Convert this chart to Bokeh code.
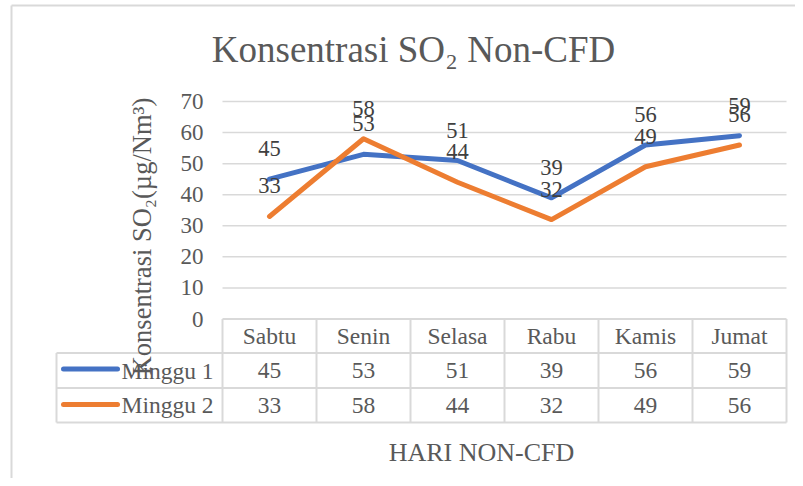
from bokeh.plotting import figure
from bokeh.core.properties import value
from bokeh.models import Range1d
from bokeh.embed import file_html
from bokeh.resources import INLINE

# ---- data ----
days = ["Sabtu", "Senin", "Selasa", "Rabu", "Kamis", "Jumat"]
series_names = ["Minggu 1", "Minggu 2"]
minggu1 = [45, 53, 51, 39, 56, 59]
minggu2 = [33, 58, 44, 32, 49, 56]
y_ticks = [0, 10, 20, 30, 40, 50, 60, 70]
title_text = "Konsentrasi SO\u2082 Non-CFD"
y_title = "Konsentrasi SO\u2082(\u00b5g/Nm\u00b3)"
x_title = "HARI NON-CFD"

# ---- layout (page pixels) ----
W, H = 795, 478
OFF = 0
PLOT_L = 222.0      # page x of first category column
COL = 94.0          # px per category
ZERO_Y = 318.5      # page y of value 0
PPU = 3.107         # px per value unit


def X(px):
    return (px - PLOT_L) / COL


def Y(py):
    return (ZERO_Y - py) / PPU


FONT = value("Liberation Serif")
GRID = "#d9d9d9"
TXT = "#595959"
LBL = "#404040"
COLORS = ["#4472c4", "#ed7d31"]

p = figure(width=W, height=H,
           x_range=Range1d(X(OFF), X(OFF + W)),
           y_range=Range1d(Y(OFF + H), Y(OFF)),
           x_axis_type=None, y_axis_type=None,
           output_backend="svg", toolbar_location=None,
           min_border=0, outline_line_color=None)
p.background_fill_color = "white"
p.border_fill_color = "white"

# outer chart border (left and top edges)
p.segment(x0=[X(11), X(11)], x1=[X(11), X(OFF + W)], y0=[Y(5), Y(5)], y1=[Y(OFF + H), Y(5)],
          line_color=GRID, line_width=2)

n = len(days)
xc = [i + 0.5 for i in range(n)]

# gridlines
gv = [t for t in y_ticks if t > 0]
p.segment(x0=[0] * len(gv), x1=[n] * len(gv), y0=gv, y1=gv, line_color=GRID, line_width=1.5)

# y tick labels
p.text(x=[X(203)] * len(y_ticks), y=y_ticks, text=[str(t) for t in y_ticks],
       text_align="right", text_baseline="middle", text_font=FONT,
       text_font_size="23px", text_color=TXT)

# data table grid
row_bottoms = [352.5, 387.5, 422.0]
p.segment(x0=[0], x1=[n], y0=[0], y1=[0], line_color=GRID, line_width=2)
p.segment(x0=[X(56)] * 3, x1=[n] * 3, y0=[Y(v) for v in row_bottoms],
          y1=[Y(v) for v in row_bottoms], line_color=GRID, line_width=2)
p.segment(x0=list(range(n + 1)), x1=list(range(n + 1)),
          y0=[0] * (n + 1), y1=[Y(422.0)] * (n + 1), line_color=GRID, line_width=2)
p.segment(x0=[X(56)], x1=[X(56)], y0=[Y(352.5)], y1=[Y(422.0)], line_color=GRID, line_width=2)

# header
p.text(x=xc, y=[Y(335.5)] * n, text=days, text_align="center", text_baseline="middle",
       text_font=FONT, text_font_size="23.5px", text_color=TXT)

row_mid = [370.0, 404.8]
key_mid = [368.5, 404.0]
for k, vals in enumerate([minggu1, minggu2]):
    p.text(x=xc, y=[Y(row_mid[k])] * n, text=[str(v) for v in vals],
           text_align="center", text_baseline="middle",
           text_font=FONT, text_font_size="23.5px", text_color=TXT)
    # legend key
    p.line(x=[X(63), X(117)], y=[Y(key_mid[k])] * 2, line_color=COLORS[k],
           line_width=5, line_cap="round")
    p.text(x=[X(121)], y=[Y(row_mid[k])], text=[series_names[k]],
           text_align="left", text_baseline="middle",
           text_font=FONT, text_font_size="23.5px", text_color=TXT)

# series lines
for k, vals in enumerate([minggu1, minggu2]):
    p.line(x=xc, y=vals, line_color=COLORS[k], line_width=5,
           line_cap="round", line_join="round")

# data labels
for k, vals in enumerate([minggu1, minggu2]):
    p.text(x=xc, y=vals, text=[str(v) for v in vals], y_offset=-30.5,
           text_align="center", text_baseline="middle",
           text_font=FONT, text_font_size="22.5px", text_color=LBL)

# titles
p.text(x=[X(413)], y=[Y(48.5)], text=[title_text], text_align="center",
       text_baseline="middle", text_font=FONT, text_font_size="37px", text_color=TXT)
p.text(x=[X(141.5)], y=[Y(236)], text=[y_title], angle=1.5707963,
       text_align="center", text_baseline="middle", text_font=FONT,
       text_font_size="26.5px", text_color=TXT)
p.text(x=[X(481)], y=[Y(452)], text=[x_title], text_align="center",
       text_baseline="middle", text_font=FONT, text_font_size="26px", text_color=TXT)

open("out.html", "w").write(file_html(p, INLINE))
